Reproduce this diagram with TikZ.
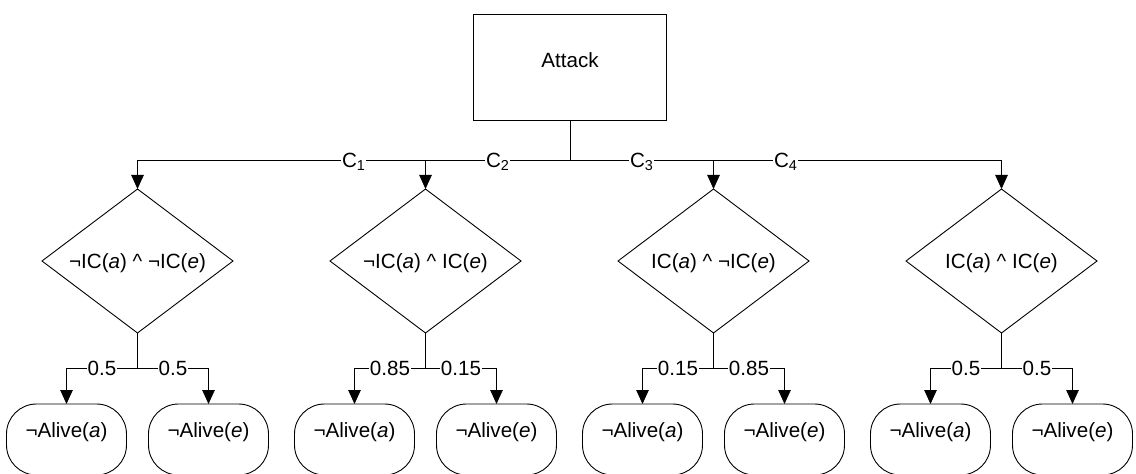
\documentclass[tikz,border=0pt]{standalone}
\usepackage{fontspec}
\setmainfont{Liberation Sans}
\usetikzlibrary{shapes.geometric,arrows.meta}
\begin{document}
\begin{tikzpicture}[x=1pt,y=-1pt,line width=0.9pt,
  font=\fontsize{20.6}{24}\selectfont,
  process/.style={draw,rectangle,minimum width=193pt,minimum height=106pt,inner sep=0pt,outer sep=0pt,text height=10pt,text depth=10pt},
  decision/.style={draw,diamond,aspect=1.33,minimum width=191pt,minimum height=144pt,inner sep=0pt,outer sep=0pt,text height=14.8pt,text depth=0pt},
  terminal/.style={draw,rectangle,rounded corners=30pt,minimum width=120pt,minimum height=71pt,inner sep=0pt,outer sep=0pt,anchor=north,text height=10pt,text depth=15pt},
  lbl/.style={fill=white,inner xsep=1pt,inner ysep=0pt,text height=14.8pt,text depth=0pt},
  arr/.style={-{Triangle[length=14pt,width=12.5pt]}}]
\useasboundingbox (0,0) rectangle (1136,474);
\clip (0,0) rectangle (1136,474);

\node[process] (attack) at (570,67) {Attack};
\coordinate (split) at (570,160);

\node[decision] (d1) at (137.5,261) {¬IC(\textit{a}) \textasciicircum{} ¬IC(\textit{e})};
\node[decision] (d2) at (425.5,261) {¬IC(\textit{a}) \textasciicircum{} IC(\textit{e})};
\node[decision] (d3) at (713.5,261) {IC(\textit{a}) \textasciicircum{} ¬IC(\textit{e})};
\node[decision] (d4) at (1001.5,261) {IC(\textit{a}) \textasciicircum{} IC(\textit{e})};

\draw (attack) -- (split);
\draw[arr] (split) -| node[pos=.25,lbl] {C\textsubscript{1}} (d1);
\draw[arr] (split) -| node[pos=.25,lbl] {C\textsubscript{2}} (d2);
\draw[arr] (split) -| node[pos=.25,lbl] {C\textsubscript{4}} (d4);
\draw[arr] (split) -| node[pos=.25,lbl] {C\textsubscript{3}} (d3);

\coordinate (s1) at (137.5,368);
\coordinate (s2) at (425.5,368);
\coordinate (s3) at (713.5,368);
\coordinate (s4) at (1001.5,368);

\node[terminal] (t1a) at (66.5,404) {¬Alive(\textit{a})};
\node[terminal] (t1e) at (208.5,404) {¬Alive(\textit{e})};
\node[terminal] (t2a) at (354.5,404) {¬Alive(\textit{a})};
\node[terminal] (t2e) at (496.5,404) {¬Alive(\textit{e})};
\node[terminal] (t3a) at (642.5,404) {¬Alive(\textit{a})};
\node[terminal] (t3e) at (784.5,404) {¬Alive(\textit{e})};
\node[terminal] (t4a) at (930.5,404) {¬Alive(\textit{a})};
\node[terminal] (t4e) at (1072.5,404) {¬Alive(\textit{e})};

\draw (d1) -- (s1);
\draw[arr] (s1) -| node[pos=.25,lbl] {0.5} (t1a);
\draw[arr] (s1) -| node[pos=.25,lbl] {0.5} (t1e);
\draw (d2) -- (s2);
\draw[arr] (s2) -| node[pos=.25,lbl] {0.85} (t2a);
\draw[arr] (s2) -| node[pos=.25,lbl] {0.15} (t2e);
\draw (d3) -- (s3);
\draw[arr] (s3) -| node[pos=.25,lbl] {0.15} (t3a);
\draw[arr] (s3) -| node[pos=.25,lbl] {0.85} (t3e);
\draw (d4) -- (s4);
\draw[arr] (s4) -| node[pos=.25,lbl] {0.5} (t4a);
\draw[arr] (s4) -| node[pos=.25,lbl] {0.5} (t4e);
\end{tikzpicture}
\end{document}
